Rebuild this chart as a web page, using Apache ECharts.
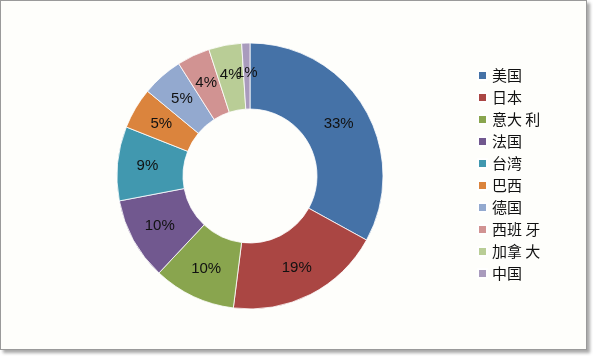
<!DOCTYPE html>
<html>
<head>
<meta charset="utf-8">
<script src="https://cdn.jsdelivr.net/npm/echarts@6/dist/echarts.min.js"></script>
<style>
html,body{margin:0;padding:0;background:#fff;}
#frame{position:absolute;left:0;top:0;width:585px;height:348px;border:1px solid #9a9a9a;box-shadow:3px 3px 3px #a8a8a8;background:#fefefb;}
#chart{width:587px;height:350px;}
</style>
</head>
<body>
<div id="frame"><div id="chart"></div></div>
<script>
const categories = ['美国','日本','意大利','法国','台湾','巴西','德国','西班牙','加拿大','中国'];
const values = [33,19,10,10,9,5,5,4,4,1];
const colors = ['#4572A7','#AA4643','#89A54E','#71588F','#4198AF','#DB843D','#93A9CF','#D19392','#B9CD96','#A99BBD'];
const legendNames = ['美国','日本','意大 利','法国','台湾','巴西','德国','西班 牙','加拿 大','中国'];

const chart = echarts.init(document.getElementById('chart'), null, {renderer:'canvas'});
chart.setOption({
  animation:false,
  color: colors,
  legend:{
    orient:'vertical',
    left:476, top:67, padding:0,
    itemWidth:9, itemHeight:9, itemGap:7,
    icon:'rect',
    data:categories,
    formatter: function(n){ return legendNames[categories.indexOf(n)]; },
    textStyle:{fontFamily:'Noto Sans CJK SC', fontSize:15, lineHeight:14, color:'#111'}
  },
  series:[{
    type:'pie',
    center:[249,175],
    radius:[67,133],
    startAngle:90,
    clockwise:true,
    avoidLabelOverlap:false,
    labelLayout:{hideOverlap:false},
    itemStyle:{borderColor:'#ffffff', borderWidth:0.8},
    label:{
      show:true, position:'inside',
      formatter: function(p){ return p.value + '%'; },
      fontFamily:'Liberation Sans, Arial, sans-serif', fontSize:15, color:'#111'
    },
    labelLine:{show:false},
    data: categories.map((c,i)=>({name:c, value:values[i]}))
  }]
});
</script>
</body>
</html>
